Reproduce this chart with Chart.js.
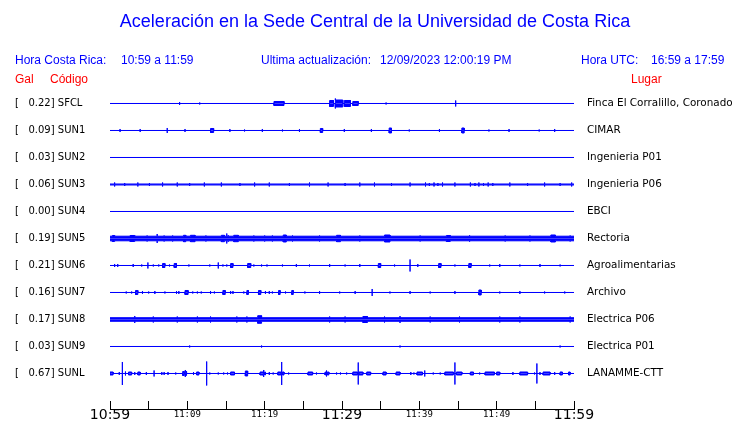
<!DOCTYPE html>
<html>
<head>
<meta charset="utf-8">
<script src="https://cdn.jsdelivr.net/npm/chart.js@4.4.1/dist/chart.umd.min.js"></script>
<style>
  html, body { margin: 0; padding: 0; background: #fff; }
  canvas { display: block; }
</style>
</head>
<body>
<canvas id="sismo" width="740" height="423"></canvas>
<script>
// estaciones, de arriba hacia abajo
const codes = ['SFCL', 'SUN1', 'SUN2', 'SUN3', 'SUN4', 'SUN5', 'SUN6', 'SUN7', 'SUN8', 'SUN9', 'SUNL'];
const gal = [0.22, 0.09, 0.03, 0.06, 0.00, 0.19, 0.21, 0.16, 0.17, 0.03, 0.67];
const places = ['Finca El Corralillo, Coronado', 'CIMAR', 'Ingenieria P01', 'Ingenieria P06', 'EBCI',
  'Rectoria', 'Agroalimentarias', 'Archivo', 'Electrica P06', 'Electrica P01', 'LANAMME-CTT'];

// minutos desde 10:59
const tickMinutes = [0, 5, 10, 15, 20, 25, 30, 35, 40, 45, 50, 55, 60];
const tickLabels = ['10:59', '', '11:09', '', '11:19', '', '11:29', '', '11:39', '', '11:49', '', '11:59'];
const bigLabels = ['10:59', '11:29', '11:59'];

// ruido de fondo de cada traza (amplitud media)
const noise = [0, 0, 0, 0.5, 0, 2.3, 0, 0, 1.8, 0, 0];

// eventos: [minuto, amplitud] o [desde, hasta, amplitud]
const sfcl = [[9.0, 1.5], [11.6, 1], [21.2, 22.5, 2], [28.4, 28.9, 3], [29.1, 5], [29.2, 30.1, 3.5],
  [30.3, 31.1, 3], [31.4, 32.1, 2], [35.7, 1], [44.7, 3]];
const sun1 = [[1.3, 1.5], [3.9, 1.5], [7.4, 2.5], [9.7, 1.5], [13.0, 13.4, 2], [15.5, 1.5], [17.4, 1],
  [19.7, 1.5], [22.3, 1], [24.5, 1.5], [27.2, 27.5, 2], [30.3, 1.5], [33.8, 1.5], [36.1, 36.4, 2.5],
  [38.7, 1], [42.6, 1.5], [45.5, 45.8, 2.5], [49.0, 1], [51.6, 1.5], [55.5, 1], [57.5, 1.5]];
const sun2 = [];
const sun3 = [[0.6, 2], [1.9, 1.5], [3.6, 2], [5.1, 1.5], [6.8, 2], [8.7, 2], [10.3, 1.5], [12.2, 2],
  [14.4, 2], [16.8, 1.5], [18.7, 2], [20.6, 2], [23.2, 1.5], [25.8, 2], [28.2, 2], [30.4, 1.5],
  [32.3, 2], [34.2, 2], [36.4, 1.5], [38.8, 2], [40.8, 2], [41.3, 1.5], [41.9, 2], [42.4, 1.5],
  [43.0, 2], [44.6, 2], [46.6, 2], [47.2, 1.5], [47.7, 2], [48.3, 1.5], [48.9, 2], [49.5, 1.5],
  [51.7, 2], [54.0, 1.5], [56.2, 2], [58.2, 1.5], [59.7, 2]];
const sun4 = [];
const sun5 = [[0.3, 0.6, 3], [2.6, 3.2, 3], [4.8, 3], [6.1, 4.5], [7.0, 3], [8.1, 3],
  [9.5, 9.8, 3.2], [10.4, 11.0, 3.2], [12.4, 3], [14.4, 14.8, 3.2], [15.1, 5], [15.3, 3.2],
  [16.0, 16.6, 3.2], [18.6, 3], [20.0, 3], [21.0, 3], [22.4, 22.8, 3.5], [23.6, 3],
  [27.1, 3], [29.3, 29.8, 3.2], [32.3, 3], [35.5, 36.2, 3.5], [40.1, 3], [43.5, 44.0, 3], [46.5, 3.2],
  [51.1, 3], [54.3, 3], [57.0, 57.6, 3.5], [59.5, 3]];
const sun6 = [[0.6, 1.5], [1.0, 1.5], [3.0, 1.5], [4.1, 1], [4.9, 3], [5.6, 1], [6.3, 1], [6.8, 7.1, 2],
  [7.7, 1], [8.3, 8.6, 2], [10.2, 1], [12.9, 1], [14.0, 3], [14.6, 1], [15.1, 1], [15.6, 15.9, 2],
  [17.8, 18.2, 2], [18.6, 1], [19.6, 1], [20.3, 1], [22.3, 1], [24.1, 1.5], [25.8, 1], [28.4, 1.5],
  [30.4, 1], [32.3, 1.5], [34.7, 35.0, 2], [36.8, 1], [38.8, 6], [39.8, 1.5], [42.5, 42.8, 2],
  [44.6, 1], [46.4, 46.7, 2], [49.1, 1], [50.4, 1.5], [53.0, 1], [55.6, 1.5], [58.2, 1]];
const sun7 = [[2.1, 1], [2.8, 1], [3.3, 3.6, 2], [4.2, 1.5], [5.0, 1], [5.8, 1.5], [7.1, 1], [8.6, 1.5],
  [8.9, 1.5], [9.7, 10.1, 2], [10.7, 1], [11.3, 1], [11.8, 1], [13.0, 1.5], [13.5, 1], [14.6, 14.9, 2],
  [15.6, 1.5], [15.9, 1.5], [17.3, 1], [17.7, 17.9, 2], [19.2, 19.5, 2], [20.1, 1.5], [20.6, 1.5],
  [21.0, 1], [21.8, 22.0, 2], [22.7, 1], [23.5, 23.7, 2], [25.2, 1], [27.1, 1.5], [29.7, 1],
  [31.7, 1.5], [33.9, 3.5], [36.2, 1], [38.8, 1.5], [41.4, 1], [44.6, 1.5], [47.7, 48.0, 2.5],
  [50.4, 1], [53.0, 1.5], [56.2, 1], [58.8, 1]];
const sun8 = [[3.2, 3.5], [5.6, 3], [8.7, 3], [11.3, 3], [13.0, 3], [16.4, 3], [17.7, 3], [19.1, 19.6, 3.8],
  [28.4, 3], [30.4, 3], [32.7, 33.3, 3], [35.5, 3], [37.5, 3.5], [41.4, 3], [45.2, 3], [50.4, 3],
  [53.0, 3], [59.5, 3]];
const sun9 = [[10.3, 1], [19.6, 1], [37.5, 1], [58.2, 1]];
const sunl = [[0.0, 0.4, 1.5], [1.2, 1.5], [1.6, 11.5], [2.0, 2], [2.4, 2.8, 1.5], [3.2, 1.5], [3.6, 3.9, 1.5],
  [4.7, 1.5], [5.7, 3], [6.7, 1.5], [7.0, 1.5], [7.5, 1.5], [8.5, 1], [9.4, 9.6, 2], [9.7, 3.5], [9.8, 9.9, 2],
  [10.8, 1.5], [11.2, 11.5, 1.5], [12.5, 12], [12.9, 1], [14.0, 1], [14.7, 1], [15.2, 1], [15.6, 16.1, 1.5],
  [17.5, 17.8, 2.5], [19.4, 19.8, 1.5], [19.9, 3.5], [20.0, 20.1, 1.5], [20.6, 1.5], [21.1, 1],
  [21.7, 22.1, 1.5], [22.2, 11.5], [22.3, 22.5, 1.5], [23.1, 1], [25.6, 26.2, 1.5], [26.7, 1],
  [27.8, 27.9, 1.5], [28.0, 3], [28.1, 28.3, 1.5], [29.3, 1], [29.8, 1], [30.6, 1],
  [31.4, 32.0, 1.5], [32.1, 11], [32.2, 32.7, 1.5], [33.2, 33.7, 1.5], [35.3, 35.7, 1.5], [37.0, 37.5, 1.5],
  [38.9, 1.5], [39.3, 1], [39.7, 40.4, 1.5], [40.7, 3], [41.8, 1], [42.7, 1], [43.3, 44.4, 1.5],
  [44.6, 11], [44.8, 45.5, 1.5], [46.6, 47.0, 1.5], [47.8, 1], [48.5, 49.7, 1.5], [50.0, 50.4, 1.5],
  [52.1, 1.5], [53.0, 54.0, 1.5], [54.9, 1], [55.2, 10], [55.6, 1.5], [56.0, 56.9, 1.5], [57.5, 1.5],
  [58.2, 58.5, 1.5], [59.3, 59.5, 1.5]];
const events = [sfcl, sun1, sun2, sun3, sun4, sun5, sun6, sun7, sun8, sun9, sunl];

const GAIN = 1 / 27; // amplitud -> separacion entre trazas
const BLUE = '#0000ff';

function envelope(row, band, evs, sign) {
  const base = row + sign * band * GAIN;
  const pts = [{x: 0, y: base}];
  for (const e of evs) {
    const t0 = e[0];
    const t1 = e.length === 3 ? e[1] : e[0];
    const peak = row + sign * e[e.length - 1] * GAIN;
    pts.push({x: t0, y: base}, {x: t0, y: peak}, {x: t1, y: peak}, {x: t1, y: base});
  }
  pts.push({x: 60, y: base});
  return pts;
}

const datasets = [];
codes.forEach((code, i) => {
  [1, -1].forEach(sign => {
    datasets.push({
      label: code,
      data: envelope(i, noise[i], events[i], sign),
      borderColor: BLUE,
      backgroundColor: BLUE,
      borderWidth: 1,
      pointRadius: 0,
      tension: 0,
      fill: {value: i}
    });
  });
});

const headerPlugin = {
  id: 'header',
  afterDraw(chart) {
    const ctx = chart.ctx;
    ctx.save();
    ctx.textBaseline = 'middle';
    ctx.fillStyle = BLUE;
    ctx.font = '18px "Liberation Sans"';
    ctx.textAlign = 'center';
    ctx.fillText('Aceleración en la Sede Central de la Universidad de Costa Rica', 375, 22);
    ctx.textAlign = 'left';
    ctx.font = '12px "Liberation Sans"';
    ctx.fillText('Hora Costa Rica:', 15, 61);
    ctx.fillText('10:59 a 11:59', 121, 61);
    ctx.fillText('Ultima actualización:', 261, 61);
    ctx.fillText('12/09/2023 12:00:19 PM', 380, 61);
    ctx.fillText('Hora UTC:', 581, 61);
    ctx.fillText('16:59 a 17:59', 651, 61);
    ctx.fillStyle = '#ff0000';
    ctx.fillText('Gal', 15, 80);
    ctx.fillText('Código', 50, 80);
    ctx.fillText('Lugar', 631, 80);
    ctx.restore();
  }
};

const rowTicks = axis => { axis.ticks = codes.map((c, i) => ({value: i})); };
const fitRows = width => axis => {
  axis.width = width;
  axis.paddingTop = 0;
  axis.paddingBottom = 0;
};

new Chart(document.getElementById('sismo'), {
  type: 'line',
  data: {datasets},
  plugins: [headerPlugin],
  options: {
    responsive: false,
    devicePixelRatio: 1,
    animation: false,
    events: [],
    layout: {padding: {top: 90, left: 15, right: 0, bottom: 0}},
    plugins: {legend: {display: false}, tooltip: {enabled: false}},
    scales: {
      x: {
        type: 'linear',
        min: 0,
        max: 60,
        afterBuildTicks: axis => { axis.ticks = tickMinutes.map(v => ({value: v})); },
        afterFit: axis => { axis.height = 14; },
        grid: {drawOnChartArea: false, drawTicks: true, tickLength: -8, color: '#000', lineWidth: 1},
        border: {display: true, color: '#000', width: 1},
        ticks: {
          autoSkip: false,
          maxRotation: 0,
          padding: 7,
          color: '#000',
          callback: v => tickLabels[tickMinutes.indexOf(v)],
          font: ctx => bigLabels.includes(tickLabels[ctx.index])
            ? {family: 'DejaVu Sans', size: 14, lineHeight: '14px'}
            : {family: 'DejaVu Sans Mono', size: 9, lineHeight: '14px'}
        }
      },
      y: {
        type: 'linear',
        position: 'left',
        reverse: true,
        min: -0.5,
        max: 11.315,
        afterBuildTicks: rowTicks,
        afterFit: fitRows(95),
        grid: {display: false, drawTicks: false},
        border: {display: false},
        ticks: {
          autoSkip: false,
          crossAlign: 'far',
          padding: 0,
          color: '#000',
          font: {family: 'DejaVu Sans', size: 10},
          callback: v => '[   ' + gal[v].toFixed(2) + '] ' + codes[v]
        }
      },
      y2: {
        type: 'linear',
        position: 'right',
        reverse: true,
        min: -0.5,
        max: 11.315,
        afterBuildTicks: rowTicks,
        afterFit: fitRows(166),
        grid: {display: false, drawTicks: false},
        border: {display: false},
        ticks: {
          autoSkip: false,
          crossAlign: 'near',
          padding: 13,
          color: '#000',
          font: {family: 'DejaVu Sans', size: 10.4},
          callback: v => places[v]
        }
      }
    }
  }
});
</script>
</body>
</html>
